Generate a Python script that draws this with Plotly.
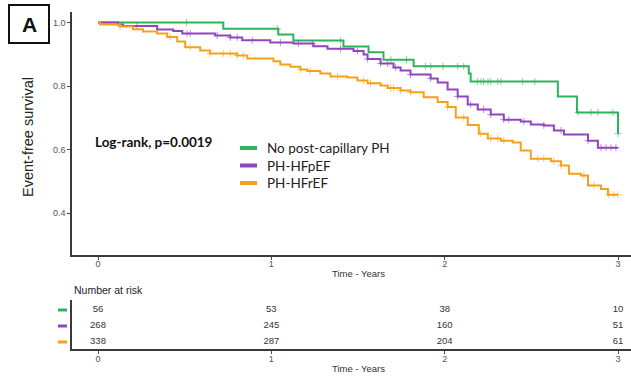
import plotly.graph_objects as go

# ---- Kaplan-Meier estimates (time in years, event-free survival) ----
groups = ["No post-capillary PH", "PH-HFpEF", "PH-HFrEF"]
colors = ["#2fb45c", "#9146c0", "#f7a11a"]

green_t = [0, 0.723, 1.04, 1.127, 1.416, 1.561, 1.647, 1.821, 2.139, 2.150, 2.653, 2.763, 3.0]
green_s = [1.0, 0.980, 0.962, 0.943, 0.924, 0.906, 0.883, 0.862, 0.839, 0.814, 0.767, 0.717, 0.650]
green_cens = [0.51, 1.035, 1.40, 1.69, 1.78, 1.89, 1.92, 1.99, 2.075, 2.11, 2.19, 2.21, 2.225,
              2.25, 2.266, 2.306, 2.324, 2.45, 2.52, 2.769, 2.844, 2.884, 2.971, 3.0]

purple_t = [0, 0.116, 0.145, 0.341, 0.434, 0.486, 0.676, 0.763, 0.832, 0.994, 1.127, 1.243,
            1.324, 1.474, 1.532, 1.555, 1.630, 1.705, 1.746, 1.803, 1.919, 1.960, 2.017, 2.075,
            2.133, 2.191, 2.266, 2.341, 2.439, 2.497, 2.572, 2.630, 2.688, 2.827, 2.884, 3.0]
purple_s = [1.0, 0.994, 0.989, 0.978, 0.973, 0.965, 0.959, 0.953, 0.944, 0.937, 0.934, 0.925,
            0.917, 0.910, 0.899, 0.885, 0.871, 0.858, 0.849, 0.836, 0.824, 0.811, 0.789, 0.767,
            0.742, 0.726, 0.710, 0.694, 0.688, 0.679, 0.676, 0.660, 0.647, 0.628, 0.606, 0.606]
purple_cens = [0.225, 0.514, 0.532, 0.688, 0.763, 0.803, 0.890, 1.052, 1.156, 1.237, 1.399,
               1.497, 1.555, 1.630, 1.671, 1.717, 1.803, 1.919, 2.075, 2.150, 2.225, 2.266,
               2.341, 2.370, 2.457, 2.572, 2.671, 2.827, 2.902, 2.931, 2.960, 2.988]

orange_t = [0, 0.012, 0.127, 0.202, 0.260, 0.341, 0.399, 0.457, 0.503, 0.590, 0.647, 0.803,
            0.861, 1.012, 1.052, 1.110, 1.168, 1.208, 1.283, 1.341, 1.439, 1.497, 1.555, 1.630,
            1.671, 1.746, 1.803, 1.879, 1.960, 2.017, 2.064, 2.133, 2.197, 2.249, 2.324, 2.393,
            2.439, 2.497, 2.613, 2.671, 2.717, 2.786, 2.827, 2.902, 2.942, 3.0]
orange_s = [1.0, 0.994, 0.987, 0.979, 0.972, 0.965, 0.954, 0.940, 0.922, 0.912, 0.902, 0.896,
            0.887, 0.878, 0.868, 0.861, 0.852, 0.847, 0.839, 0.830, 0.827, 0.817, 0.809, 0.802,
            0.794, 0.786, 0.780, 0.765, 0.750, 0.734, 0.701, 0.677, 0.650, 0.635, 0.628, 0.622,
            0.597, 0.571, 0.563, 0.550, 0.524, 0.518, 0.487, 0.476, 0.458, 0.458]
orange_cens = [0.127, 0.416, 0.532, 0.647, 0.723, 0.763, 0.803, 0.838, 1.168, 1.225, 1.382,
               1.532, 1.572, 1.688, 1.705, 1.746, 1.803, 2.017, 2.110, 2.208, 2.266, 2.306,
               2.341, 2.538, 2.572, 2.630, 2.671, 2.803, 2.861, 2.948, 2.977, 3.0]

# ---- Number at risk table ----
risk_times = [0, 1, 2, 3]
risk_green = [56, 53, 38, 10]
risk_purple = [268, 245, 160, 51]
risk_orange = [338, 287, 204, 61]

x_ticks = [0, 1, 2, 3]
y_ticks = [0.4, 0.6, 0.8, 1.0]

W, H = 631, 377


def px(x):
    return x / W


def py(y):
    return 1 - y / H


def surv_at(times, surv, t):
    val = surv[0]
    for ti, si in zip(times, surv):
        if ti <= t:
            val = si
    return val


fig = go.Figure()

curves = [(green_t, green_s, green_cens), (purple_t, purple_s, purple_cens),
          (orange_t, orange_s, orange_cens)]
for (t, s, cens), name, col in zip(curves, groups, colors):
    fig.add_trace(go.Scatter(x=t, y=s, mode="lines", line=dict(color=col, width=2, shape="hv"),
                             name=name, showlegend=False, xaxis="x", yaxis="y"))
    fig.add_trace(go.Scatter(x=cens, y=[surv_at(t, s, c) for c in cens], mode="markers",
                             marker=dict(symbol="cross-thin", size=5, color=col,
                                         line=dict(color=col, width=1), opacity=0.6),
                             showlegend=False, xaxis="x", yaxis="y"))

# risk table numbers: row 3 = green, 2 = purple, 1 = orange
for row, vals in zip([3, 2, 1], [risk_green, risk_purple, risk_orange]):
    fig.add_trace(go.Scatter(x=risk_times, y=[row] * len(risk_times), mode="text",
                             text=[str(v) for v in vals],
                             textfont=dict(family="Liberation Sans", size=9.5, color="#333"),
                             showlegend=False, xaxis="x2", yaxis="y2"))

axis_common = dict(showline=True, linecolor="#3a3a3a", linewidth=1.5, showgrid=False,
                   zeroline=False, ticks="outside", ticklen=3, tickcolor="#4a4a4a",
                   tickfont=dict(family="Liberation Sans", size=9, color="#555"))

fig.update_layout(
    width=W, height=H, margin=dict(l=0, r=0, t=0, b=0),
    paper_bgcolor="white", plot_bgcolor="white",
    xaxis=dict(domain=[px(72), 1], range=[-0.15, 3.075], tickvals=x_ticks,
               anchor="y", ticklabelstandoff=-4, **axis_common),
    yaxis=dict(domain=[py(255), py(12)], range=[0.268, 1.033], tickvals=y_ticks,
               tickformat=".1f", anchor="x", **axis_common),
    xaxis2=dict(domain=[px(72), 1], range=[-0.15, 3.075], tickvals=x_ticks,
                anchor="y2", ticklabelstandoff=-3, **axis_common),
    yaxis2=dict(domain=[py(349), py(300)], range=[0.5625, 3.625], showticklabels=False,
                showline=True, linecolor="#3a3a3a", linewidth=1.5, ticks="",
                showgrid=False, zeroline=False, anchor="x2"),
)

shapes = []
anns = []


def note(text, x, y, size, family="Liberation Sans", color="#222", xanchor="center", **kw):
    anns.append(dict(text=text, x=px(x), y=py(y), xref="paper", yref="paper",
                     xanchor=xanchor, yanchor="middle", showarrow=False,
                     font=dict(family=family, size=size, color=color), **kw))


# panel letter box
shapes.append(dict(type="rect", xref="paper", yref="paper", x0=px(9), x1=px(49),
                   y0=py(43), y1=py(5), line=dict(color="#111", width=2)))
note("<b>A</b>", 29, 24.5, 21, color="#111")

# axis titles
note("Event-free survival", 28, 137, 14.5, textangle=-90)
note("Time - Years", 358, 273, 9.5, color="#333")
note("Time - Years", 358, 368, 9.5, color="#333")
note("Number at risk", 72, 290, 10.5, xanchor="left")

# log-rank statistic
note("<b>Log-rank, p=0.0019</b>", 93, 142, 13.5, family="Lato", color="#111", xanchor="left")

# legend block
for i, (name, col) in enumerate(zip(groups, colors)):
    yy = 148 + i * 17.5
    shapes.append(dict(type="line", xref="paper", yref="paper", x0=px(240), x1=px(257),
                       y0=py(yy), y1=py(yy), line=dict(color=col, width=4)))
    note(name, 265, yy, 13.5, family="Lato", xanchor="left")

# colour keys for the risk table rows
for row, col in zip([3, 2, 1], colors):
    shapes.append(dict(type="line", xref="paper", yref="y2", x0=px(58), x1=px(67),
                       y0=row, y1=row, line=dict(color=col, width=3)))

fig.update_layout(shapes=shapes, annotations=anns)
fig.write_html("out.html")
